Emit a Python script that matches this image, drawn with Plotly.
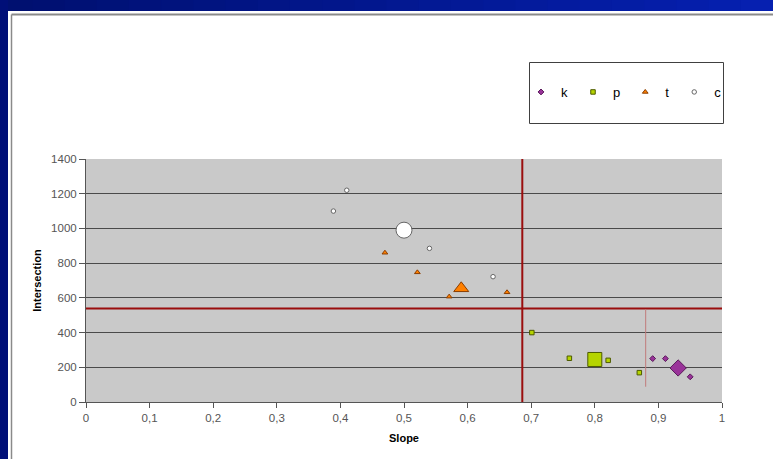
import plotly.graph_objects as go

# ---------------- data ----------------
k_slope = [0.891, 0.911, 0.950]
k_intersection = [250, 250, 145]
k_mean_slope = [0.931]
k_mean_intersection = [196]

p_slope = [0.701, 0.760, 0.821, 0.870]
p_intersection = [400, 252, 240, 169]
p_mean_slope = [0.800]
p_mean_intersection = [245]

t_slope = [0.470, 0.521, 0.571, 0.662]
t_intersection = [860, 747, 607, 632]
t_mean_slope = [0.590]
t_mean_intersection = [655]

c_slope = [0.389, 0.410, 0.540, 0.640]
c_intersection = [1100, 1220, 885, 722]
c_mean_slope = [0.500]
c_mean_intersection = [990]

slope_threshold = 0.686
intersection_threshold = 538
marker_line_slope = 0.88
marker_line_range = [88, 535]

x_ticks = [0, 0.1, 0.2, 0.3, 0.4, 0.5, 0.6, 0.7, 0.8, 0.9, 1]
y_ticks = [0, 200, 400, 600, 800, 1000, 1200, 1400]

# ---------------- figure ----------------
W, H = 773, 459
L, R, T, B = 86, 722, 159, 402


def px(x):
    return (x - L) / (R - L)


def py(y):
    return (B - y) / (B - T)


series = [
    ("k", k_slope, k_intersection, k_mean_slope, k_mean_intersection,
     "diamond", "#993399", "#5a1a5a", 4.5, 12.5),
    ("p", p_slope, p_intersection, p_mean_slope, p_mean_intersection,
     "square", "#b5d400", "#4d5a00", 4.5, 14),
    ("t", t_slope, t_intersection, t_mean_slope, t_mean_intersection,
     "triangle-up", "#ff8000", "#8a3d00", 5, 13),
    ("c", c_slope, c_intersection, c_mean_slope, c_mean_intersection,
     "circle", "#ffffff", "#666666", 4.5, 16),
]

fig = go.Figure()
for name, xs, ys, mx, my, sym, col, lcol, s_small, s_big in series:
    fig.add_trace(go.Scatter(
        x=xs, y=ys, mode="markers", name=name, legendgroup=name,
        marker=dict(symbol=sym, size=s_small, color=col,
                    line=dict(color=lcol, width=1)),
    ))
    fig.add_trace(go.Scatter(
        x=mx, y=my, mode="markers", name=name, legendgroup=name,
        showlegend=False,
        marker=dict(symbol=sym, size=s_big, color=col,
                    line=dict(color=lcol, width=1)),
    ))

shapes = []
# blue slide frame (gradient approximated by slices)
n = 24
c0 = (0, 16, 112)
c1 = (6, 32, 176)
for i in range(n):
    f = i / (n - 1)
    col = "rgb(%d,%d,%d)" % tuple(int(a + (b - a) * f) for a, b in zip(c0, c1))
    x0 = i * W / n
    x1 = (i + 1) * W / n + 1
    shapes.append(dict(type="rect", xref="paper", yref="paper",
                       x0=px(x0), x1=px(x1), y0=py(11), y1=py(-2),
                       fillcolor=col, line=dict(width=0), layer="below"))
shapes.append(dict(type="rect", xref="paper", yref="paper",
                   x0=px(-2), x1=px(8), y0=py(H + 2), y1=py(-2),
                   fillcolor="#000f78", line=dict(width=0), layer="below"))
# grey panel border
shapes.append(dict(type="line", xref="paper", yref="paper",
                   x0=px(11.5), x1=px(W + 5), y0=py(14.5), y1=py(14.5),
                   line=dict(color="#8a8a8a", width=2), layer="below"))
shapes.append(dict(type="line", xref="paper", yref="paper",
                   x0=px(11.5), x1=px(11.5), y0=py(14.5), y1=py(H + 5),
                   line=dict(color="#8a8a8a", width=1.5), layer="below"))
# legend box
shapes.append(dict(type="rect", xref="paper", yref="paper",
                   x0=px(529.5), x1=px(723.5), y0=py(123.5), y1=py(62.5),
                   fillcolor="white", line=dict(color="#404040", width=1)))
# reference lines
shapes.append(dict(type="line", xref="x", yref="y",
                   x0=0, x1=1, y0=intersection_threshold, y1=intersection_threshold,
                   line=dict(color="#9a0d0d", width=2)))
shapes.append(dict(type="line", xref="x", yref="y",
                   x0=slope_threshold, x1=slope_threshold, y0=0, y1=1400,
                   line=dict(color="#9a0d0d", width=2)))
shapes.append(dict(type="line", xref="x", yref="y",
                   x0=marker_line_slope, x1=marker_line_slope,
                   y0=marker_line_range[0], y1=marker_line_range[1],
                   line=dict(color="#c07a7a", width=1)))

FONT = "Liberation Sans, Arial, sans-serif"
axis_font = dict(family=FONT, size=11.5, color="#555555")
title_font = dict(family=FONT, size=11, color="#000000")

fig.update_layout(
    width=W, height=H,
    margin=dict(l=L, r=W - R, t=T, b=H - B, pad=0),
    paper_bgcolor="white",
    plot_bgcolor="#c9c9c9",
    separators=", ",
    font=dict(family=FONT, size=11, color="#333333"),
    shapes=shapes,
    showlegend=True,
    legend=dict(
        orientation="h", x=px(521), y=py(92), xanchor="left", yanchor="middle",
        bgcolor="rgba(0,0,0,0)", borderwidth=0,
        font=dict(family=FONT, size=13, color="#000000"),
        itemwidth=30,
    ),
    xaxis=dict(
        range=[0, 1], tickvals=x_ticks,
        ticktext=["0" if v == 0 else ("1" if v == 1 else ("%.1f" % v).replace(".", ",")) for v in x_ticks],
        showgrid=False, zeroline=False,
        showline=True, linecolor="#555555", linewidth=1,
        ticks="outside", ticklen=5, tickcolor="#555555",
        tickfont=axis_font,
        title=dict(text="<b>Slope</b>", standoff=11, font=title_font),
    ),
    yaxis=dict(
        range=[0, 1400], tickvals=y_ticks,
        showgrid=True, gridcolor="#4a4a4a", gridwidth=1,
        zeroline=False,
        showline=True, linecolor="#555555", linewidth=1,
        ticks="outside", ticklen=6, tickcolor="#555555",
        tickfont=axis_font,
        title=dict(text="<b>Intersection</b>", standoff=7, font=title_font),
    ),
)

fig.write_html(
    "out.html",
    config={"displayModeBar": False},
    post_script="document.body.style.margin='0';document.body.style.overflow='hidden';",
)
